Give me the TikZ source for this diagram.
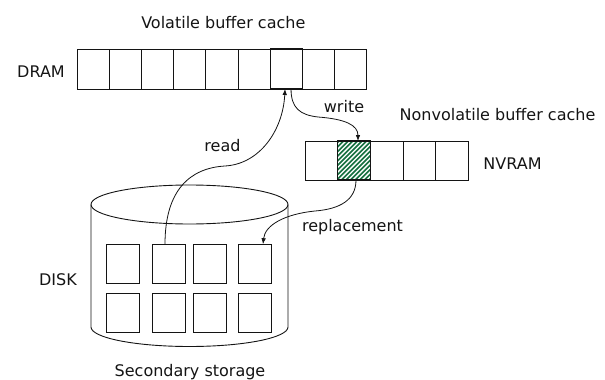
\documentclass[tikz,border=0pt]{standalone}
\usepackage{fontspec}
\setmainfont{DejaVu Sans}
\usetikzlibrary{arrows.meta}
\definecolor{nvgreen}{RGB}{22,112,64}
\definecolor{ink}{RGB}{20,20,20}

\begin{document}
\begin{tikzpicture}[x=1pt,y=-1pt,line width=0.9pt,draw=ink,
  lbl/.style={font=\fontsize{16}{19}\selectfont,anchor=base,inner sep=0pt,text=ink},
  dramcell/.style={draw,minimum width=32.16pt,minimum height=40pt,inner sep=0pt,outer sep=0pt},
  nvcell/.style={draw,minimum width=32.66pt,minimum height=39pt,inner sep=0pt,outer sep=0pt},
  block/.style={draw,minimum width=33pt,minimum height=39pt,inner sep=0pt,outer sep=0pt},
  hot/.style={line width=1.3pt},
  hatched/.style={path picture={
      \fill[nvgreen] (path picture bounding box.south west) rectangle (path picture bounding box.north east);
      \foreach \k in {-12,...,12}
        \draw[white,line width=1.3pt]
          ([shift={(\k*4.6-30,30)}]path picture bounding box.center) -- ++(60,-60);}},
  flow/.style={line width=0.8pt,-{Latex[length=6pt,width=4.6pt]}}]
\useasboundingbox (0,0) rectangle (605,380);

% volatile buffer cache (DRAM)
\foreach \i in {1,...,9}
  \node[dramcell] (d\i) at ({77.3+32.16*(\i-0.5)},69) {};
\node[dramcell,hot] at (d7) {};
\node[lbl] (dramlbl) at (41,77.3) {DRAM};
\node[lbl] (vbc) at (223.3,28.3) {Volatile buffer cache};

% nonvolatile buffer cache (NVRAM)
\foreach \i in {1,...,5}
  \node[nvcell] (n\i) at ({305+32.66*(\i-0.5)},160.5) {};
\node[nvcell,hot,hatched] (n2) at (n2) {};
\node[lbl] (nvramlbl) at (512.5,169.3) {NVRAM};
\node[lbl] (nvbc) at (497.5,120) {Nonvolatile buffer cache};

% secondary storage (disk cylinder)
\draw (91,204.5) -- (91,327) arc[start angle=180,end angle=0,x radius=98.5,y radius=19.5] -- (288,204.5);
\draw (189.5,204.5) ellipse[x radius=98.5,y radius=19.5];
\foreach \c/\x in {1/123.3,2/168.7,3/209.7,4/254.7}{
  \node[block] (b1\c) at (\x,263.7) {};
  \node[block] (b2\c) at (\x,313) {};
}
\node[lbl] (disklbl) at (58,285) {DISK};
\node[lbl] (sslbl) at (190,376) {Secondary storage};

% data movement
\draw[flow] ([xshift=-3.7pt]b12.north) .. controls (165,190) and (190,168) .. (225,166)
  .. controls (260,164) and (283,130) .. ([xshift=-1.3pt]d7.south);
\draw[flow] ([xshift=4.7pt]d7.south) .. controls (291,108) and (300,115) .. (318,117)
  .. controls (345,119) and (358,125) .. ([xshift=4pt]n2.north);
\draw[flow] ([xshift=2pt]n2.south) .. controls (356,200) and (340,209) .. (315,211)
  .. controls (285,214) and (265,225) .. ([xshift=8.3pt]b14.north);

\node[lbl] (readlbl) at (222.5,151.7) {read};
\node[lbl] (writelbl) at (344,112.3) {write};
\node[lbl] (repllbl) at (352.5,231.5) {replacement};
\end{tikzpicture}
\end{document}
